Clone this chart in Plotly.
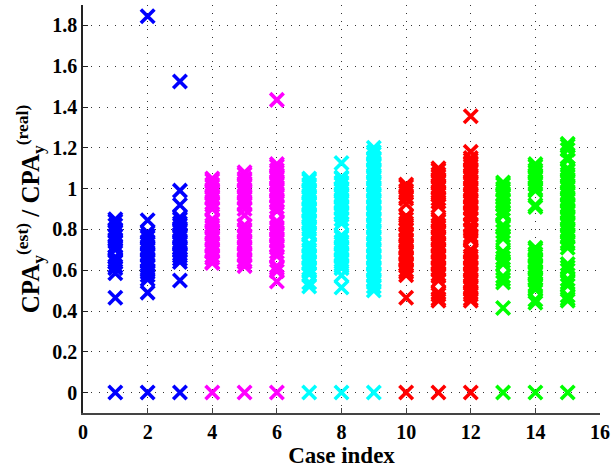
import plotly.graph_objects as go

# ---- data ----
case_index = [1, 2, 3, 4, 5, 6, 7, 8, 9, 10, 11, 12, 13, 14, 15]

case1 = [0.85, 0.84, 0.82, 0.80, 0.79, 0.77, 0.75, 0.74, 0.72, 0.71, 0.70, 0.665, 0.65, 0.64, 0.62, 0.61, 0.585, 0.465, 0.0]
case2 = [1.845, 0.845, 0.785, 0.77, 0.76, 0.74, 0.73, 0.71, 0.70, 0.68, 0.67, 0.65, 0.64, 0.62, 0.60, 0.59, 0.575, 0.555, 0.49, 0.0]
case3 = [1.525, 0.99, 0.92, 0.86, 0.85, 0.83, 0.82, 0.80, 0.79, 0.77, 0.76, 0.74, 0.73, 0.71, 0.70, 0.68, 0.67, 0.655, 0.64, 0.55, 0.0]
case4 = [1.05, 1.04, 1.02, 1.01, 0.99, 0.98, 0.96, 0.95, 0.93, 0.92, 0.90, 0.85, 0.84, 0.82, 0.81, 0.79, 0.78, 0.76, 0.75, 0.73, 0.72, 0.70, 0.69, 0.67, 0.66, 0.64, 0.635, 0.0]
case5 = [1.08, 1.07, 1.05, 1.04, 1.02, 1.01, 0.99, 0.98, 0.96, 0.95, 0.93, 0.92, 0.90, 0.87, 0.82, 0.80, 0.79, 0.77, 0.76, 0.74, 0.73, 0.71, 0.70, 0.68, 0.67, 0.65, 0.64, 0.62, 0.0]
case6 = [1.435, 1.12, 1.11, 1.09, 1.08, 1.06, 1.05, 1.03, 1.02, 1.00, 0.99, 0.97, 0.96, 0.94, 0.93, 0.91, 0.89, 0.84, 0.83, 0.81, 0.80, 0.78, 0.77, 0.75, 0.74, 0.72, 0.71, 0.69, 0.67, 0.62, 0.61, 0.595, 0.545, 0.0]
case7 = [1.05, 1.04, 1.02, 1.01, 0.99, 0.98, 0.96, 0.95, 0.93, 0.92, 0.90, 0.89, 0.87, 0.86, 0.84, 0.83, 0.81, 0.80, 0.78, 0.77, 0.73, 0.72, 0.70, 0.69, 0.67, 0.66, 0.64, 0.63, 0.61, 0.60, 0.58, 0.54, 0.52, 0.0]
case8 = [1.125, 1.055, 1.05, 1.03, 1.02, 1.00, 0.99, 0.97, 0.96, 0.94, 0.93, 0.91, 0.90, 0.88, 0.87, 0.85, 0.83, 0.77, 0.76, 0.74, 0.73, 0.71, 0.70, 0.68, 0.67, 0.65, 0.64, 0.62, 0.61, 0.575, 0.515, 0.0]
case9 = [1.20, 1.18, 1.17, 1.15, 1.14, 1.12, 1.11, 1.09, 1.08, 1.06, 1.05, 1.03, 1.02, 1.00, 0.99, 0.97, 0.96, 0.94, 0.93, 0.91, 0.90, 0.88, 0.87, 0.85, 0.84, 0.82, 0.81, 0.79, 0.78, 0.76, 0.75, 0.73, 0.72, 0.70, 0.69, 0.67, 0.66, 0.64, 0.63, 0.61, 0.60, 0.58, 0.57, 0.55, 0.54, 0.52, 0.50, 0.0]
case10 = [1.02, 1.01, 0.99, 0.98, 0.96, 0.95, 0.925, 0.865, 0.85, 0.83, 0.82, 0.80, 0.78, 0.77, 0.75, 0.74, 0.72, 0.71, 0.69, 0.68, 0.66, 0.65, 0.63, 0.62, 0.60, 0.59, 0.575, 0.465, 0.0]
case11 = [1.10, 1.09, 1.07, 1.06, 1.04, 1.03, 1.01, 1.00, 0.98, 0.97, 0.95, 0.935, 0.915, 0.85, 0.84, 0.82, 0.81, 0.79, 0.78, 0.76, 0.75, 0.73, 0.72, 0.70, 0.69, 0.67, 0.66, 0.64, 0.63, 0.61, 0.60, 0.58, 0.57, 0.55, 0.49, 0.48, 0.46, 0.45, 0.0]
case12 = [1.355, 1.18, 1.15, 1.14, 1.12, 1.11, 1.09, 1.08, 1.06, 1.05, 1.03, 1.02, 1.00, 0.99, 0.97, 0.96, 0.94, 0.93, 0.91, 0.90, 0.88, 0.87, 0.85, 0.82, 0.80, 0.79, 0.77, 0.76, 0.75, 0.70, 0.69, 0.67, 0.66, 0.64, 0.63, 0.61, 0.60, 0.58, 0.57, 0.55, 0.54, 0.52, 0.51, 0.49, 0.48, 0.46, 0.45, 0.0]
case13 = [1.03, 1.02, 1.00, 0.99, 0.97, 0.96, 0.94, 0.92, 0.90, 0.88, 0.87, 0.82, 0.81, 0.79, 0.77, 0.755, 0.69, 0.68, 0.66, 0.645, 0.63, 0.57, 0.555, 0.54, 0.415, 0.0]
case14 = [1.12, 1.11, 1.09, 1.08, 1.06, 1.05, 1.03, 1.02, 1.00, 0.99, 0.92, 0.91, 0.71, 0.70, 0.68, 0.67, 0.65, 0.64, 0.62, 0.61, 0.59, 0.58, 0.56, 0.55, 0.53, 0.52, 0.505, 0.455, 0.44, 0.0]
case15 = [1.22, 1.21, 1.19, 1.155, 1.14, 1.10, 1.09, 1.07, 1.06, 1.04, 1.03, 1.01, 1.00, 0.98, 0.97, 0.95, 0.94, 0.92, 0.91, 0.89, 0.88, 0.86, 0.85, 0.83, 0.82, 0.80, 0.79, 0.77, 0.76, 0.74, 0.73, 0.71, 0.63, 0.615, 0.60, 0.555, 0.54, 0.525, 0.475, 0.46, 0.45, 0.0]

case_values = [case1, case2, case3, case4, case5, case6, case7, case8, case9,
               case10, case11, case12, case13, case14, case15]
case_colors = ["#0000FF"] * 3 + ["#FF00FF"] * 3 + ["#00FFFF"] * 3 + ["#FF0000"] * 3 + ["#00FF00"] * 3

x_ticks = [0, 2, 4, 6, 8, 10, 12, 14, 16]
y_ticks = [0, 0.2, 0.4, 0.6, 0.8, 1.0, 1.2, 1.4, 1.6, 1.8]
y_tick_labels = ["0", "0.2", "0.4", "0.6", "0.8", "1", "1.2", "1.4", "1.6", "1.8"]

fig = go.Figure()
for idx, vals, col in zip(case_index, case_values, case_colors):
    fig.add_trace(go.Scatter(
        x=[idx] * len(vals), y=vals, mode="markers",
        marker=dict(symbol="x-thin", size=13.5, color=col,
                    line=dict(color=col, width=3.6)),
        showlegend=False, hoverinfo="skip",
    ))

FAM = "Liberation Serif"
tick_font = dict(family=FAM, size=20, color="black", weight="bold")
xtitle_font = dict(family=FAM, size=23, color="black", weight="bold")
ytitle_font = dict(family=FAM, size=25, color="black", weight="bold")

fig.update_layout(
    width=612, height=472,
    margin=dict(l=83, r=12, t=5, b=59),
    paper_bgcolor="white", plot_bgcolor="white",
    font=tick_font,
    xaxis=dict(
        range=[0, 16], tickvals=x_ticks, ticktext=[str(t) for t in x_ticks],
        showgrid=True, gridcolor="rgba(0,0,0,0.8)", griddash="1px,7px", gridwidth=1,
        zeroline=False, showline=True, linecolor="#444", linewidth=1.5,
        ticks="inside", ticklen=5, tickcolor="#444", automargin=False,
        tickfont=tick_font,
        title=dict(text="Case index", standoff=2, font=xtitle_font),
    ),
    yaxis=dict(
        range=[-0.1, 1.9], tickvals=y_ticks, ticktext=y_tick_labels,
        showgrid=True, gridcolor="rgba(0,0,0,0.8)", griddash="1px,7px", gridwidth=1,
        zeroline=False, showline=True, linecolor="#222", linewidth=1.5,
        ticks="inside", ticklen=5, tickcolor="#222", automargin=False,
        tickfont=tick_font,
        title=dict(text="CPA<sub>y</sub><sup>(est)</sup> / CPA<sub>y</sub><sup>(real)</sup>",
                   standoff=6, font=ytitle_font),
    ),
)

fig.write_html("out.html", config={"displayModeBar": False},
               post_script="document.body.style.margin='0';")
